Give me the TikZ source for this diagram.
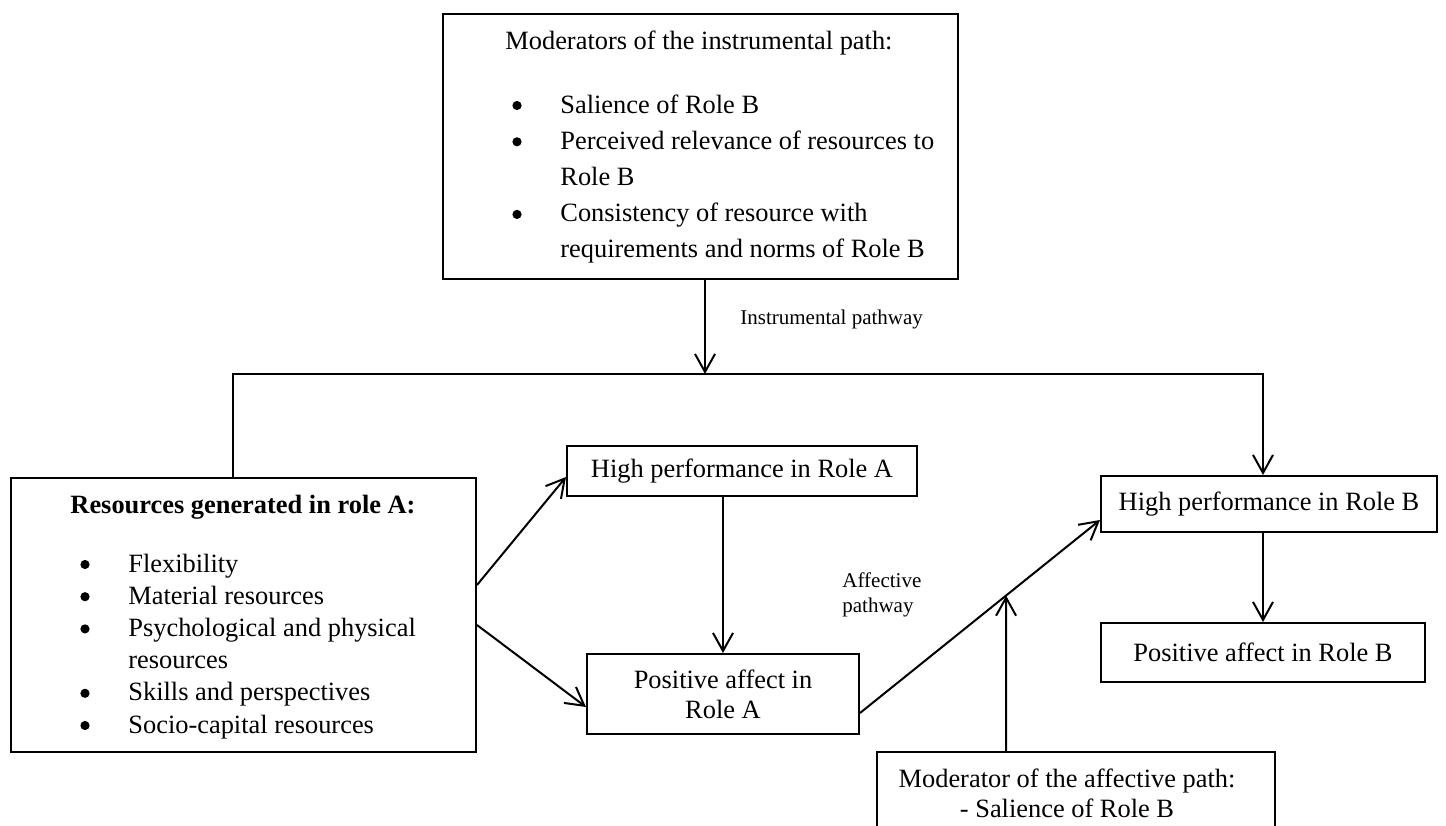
\documentclass[tikz,border=0pt]{standalone}
\usepackage{fontspec}
\setmainfont{Liberation Serif}
\usetikzlibrary{arrows.meta,positioning,calc}
\newcommand{\mainsz}{\fontsize{13.2}{16.1}\selectfont}
\newcommand{\topsz}{\fontsize{13.2}{18}\selectfont}
\newcommand{\lblsz}{\fontsize{10.5}{12.5}\selectfont}
\tikzset{
  modbox/.style={rectangle, draw=black, line width=1pt, inner sep=0pt},
  rolebox/.style={rectangle, draw=black, line width=1pt, inner sep=0pt,
                  align=center, font=\mainsz},
  txtln/.style={inner sep=0pt, font=\mainsz},
  bul/.style={circle, fill=black, inner sep=0pt, minimum size=4.6pt},
  lbl/.style={inner sep=0pt, font=\lblsz},
  ar/.style={-{Straight Barb[length=9pt,width=10pt]}, line width=1pt},
}

\begin{document}
\begin{tikzpicture}[x=0.5pt,y=-0.5pt]
\useasboundingbox (0,0) rectangle (1446,825);
\clip (0,0) rectangle (1446,825);

% ===================== moderators of the instrumental path =====================
\node[modbox, minimum width=257.5pt, minimum height=132.5pt] (instmod) at (700.5,146.5) {};
\node[txtln, anchor=base west] (insthdr) at (505,49) {Moderators of the instrumental path:};
\foreach \k/\ln/\txt in {%
1/0/{Salience of Role B},%
2/1/{Perceived relevance of resources to\\Role B},%
3/3/{Consistency of resource with\\requirements and norms of Role B}%
}
{
  \pgfmathsetmacro{\by}{113+\ln*36.3}
  \node[bul] (ib\k) at (517,\by-7.5) {};
  \node[txtln, font=\topsz, anchor=base west] (ii\k) at (560,\by)
    {\begin{tabular}[t]{@{}l@{}}\txt\end{tabular}};
}

% ===================== resources of role A =====================
\node[modbox, minimum width=232.5pt, minimum height=137pt] (res) at (243.5,615) {};
\node[txtln, font=\mainsz\bfseries, anchor=base] (reshdr) at (243,513) {Resources generated in role A:};
\foreach \k/\ln/\txt in {%
1/0/{Flexibility},%
2/1/{Material resources},%
3/2/{Psychological and physical\\resources},%
4/4/{Skills and perspectives},%
5/5/{Socio-capital resources}%
}
{
  \pgfmathsetmacro{\by}{572+\ln*32.2}
  \node[bul] (rb\k) at (85,\by-7.5) {};
  \node[txtln, anchor=base west] (ri\k) at (128,\by)
    {\begin{tabular}[t]{@{}l@{}}\txt\end{tabular}};
}

% ===================== outcome boxes =====================
\node[rolebox, minimum width=175pt, minimum height=25pt] (hpa) at (742,471) {High performance in Role A};
\node[rolebox, minimum width=136pt, minimum height=40pt, font=\fontsize{13.2}{15}\selectfont]
  (paa) at (723,694) {Positive affect in\\Role A};
\node[rolebox, minimum width=168pt, minimum height=28pt] (hpb) at (1269,504) {High performance in Role B};
\node[rolebox, minimum width=162pt, minimum height=29.5pt] (pab) at (1263,652.5) {Positive affect in Role B};

% ===================== moderator of the affective path =====================
\node[modbox, minimum width=199pt, minimum height=55pt] (affmod) at (1076,807) {};
\node[txtln, font=\fontsize{13.2}{15}\selectfont, anchor=base] (afftxt) at (1067,787)
  {\begin{tabular}[t]{@{}c@{}}Moderator of the affective path:\\- Salience of Role B\end{tabular}};

% ===================== pathway labels =====================
\node[lbl, anchor=base west] (instlbl) at (740,324) {Instrumental pathway};
\node[lbl, anchor=base west] (afflbl) at (842,587)
  {\begin{tabular}[t]{@{}l@{}}Affective\\pathway\end{tabular}};

% ===================== connectors =====================
\coordinate (ij) at (705,374);
\coordinate (jl) at (233,374);
\coordinate (jr) at (1263,374);
\draw[ar] (instmod.south -| ij) -- (ij);
\draw[ar] (res.north -| jl) -- (jl) -- (jr) -- (jr |- hpb.north);

\draw[ar] ($(res.east)+(0,-30)$) -- ($(hpa.west)+(0,6)$);
\draw[ar] ($(res.east)+(0,10)$) -- ($(paa.west)+(0,13)$);
\draw[ar] (hpa.south -| paa.north) -- (paa.north);

\coordinate (pa) at ($(paa.east)+(0,19)$);
\coordinate (pb) at ($(hpb.west)+(0,16)$);
\draw[ar] (pa) -- (pb);
\draw[ar] (hpb.south -| pab.north) -- (pab.north);

\coordinate (mt) at ($(affmod.north)+(-70,0)$);
\coordinate (mu) at ($(mt)+(0,-200)$);
\coordinate (mp) at (intersection of pa--pb and mt--mu);
\draw[ar] (mt) -- (mp);

\end{tikzpicture}
\end{document}
